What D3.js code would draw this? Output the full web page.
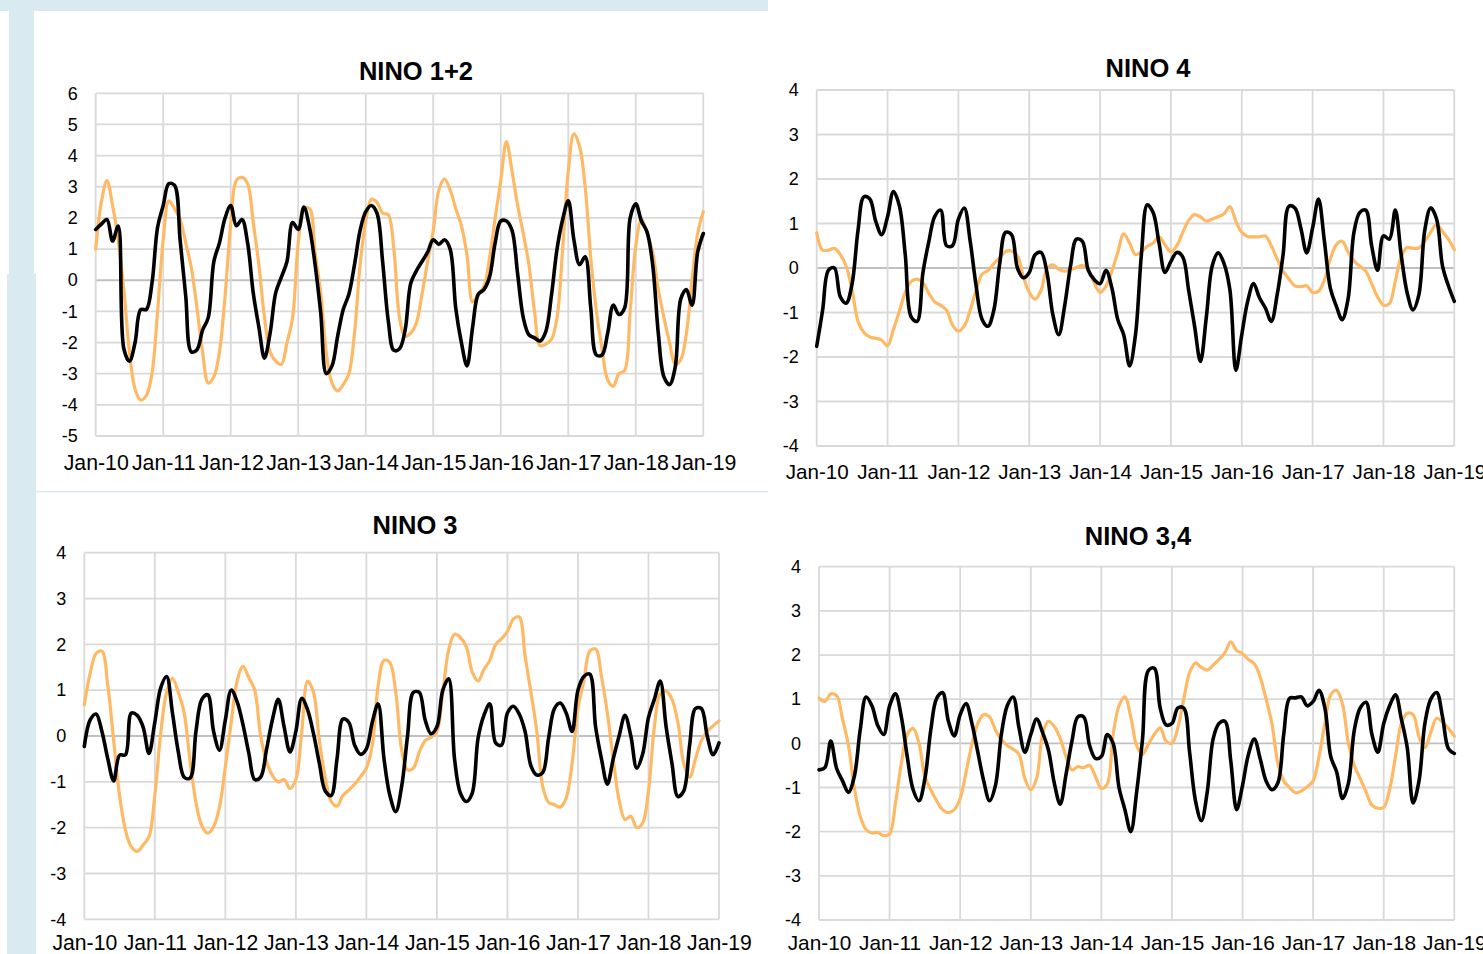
<!DOCTYPE html>
<html>
<head>
<meta charset="utf-8">
<script src="https://cdn.jsdelivr.net/npm/d3@7"></script>
<style>
  html, body { margin: 0; padding: 0; background: #ffffff; }
  svg { display: block; }
  text { font-family: "Liberation Sans", Arial, sans-serif; fill: #000; }
</style>
</head>
<body>
<svg id="chart" width="1483" height="954"></svg>
<script>
// Year labels on the time axis (one tick every 12 months, Jan-2010 .. Jan-2019)
const tickLabels = ["Jan-10", "Jan-11", "Jan-12", "Jan-13", "Jan-14", "Jan-15", "Jan-16", "Jan-17", "Jan-18", "Jan-19"];

// Monthly anomalies, Jan-2010 .. Jan-2019 (109 values per series)
const nino12A = [
  1.0, 2.5, 3.2, 2.4, 1.3, -0.3, -2.3, -3.5, -3.85, -3.7, -3.0, -1.0,
  1.3, 2.55, 2.3, 1.95, 1.2, 0.4, -0.9, -2.3, -3.3, -3.1, -2.3, -0.5,
  1.8, 3.2, 3.3, 3.1, 1.85, 0.5, -1.2, -2.3, -2.6, -2.7, -2.0, -1.2,
  1.2, 2.3, 2.3, 0.9, -0.4, -2.35, -3.3, -3.55, -3.35, -3.0, -1.7, 0.5,
  1.9, 2.6, 2.5, 2.15, 2.1, 1.0, -1.2, -1.8, -1.7, -1.37, -0.45, 0.6,
  1.6, 2.9, 3.25, 2.9, 2.3, 1.75, 0.8, -0.7, -0.45, -0.2, 0.7, 2.0,
  3.2, 4.45, 3.5, 2.4, 1.5, 0.5, -1.0, -2.1, -2.05, -1.9, -1.2, 1.0,
  3.5, 4.7, 4.3, 3.0, 0.7, -1.0, -2.2, -3.2, -3.4, -3.0, -2.9, -1.0,
  1.1, 1.95, 1.5, 0.9, -0.3, -1.2, -2.0, -2.7, -2.55, -1.7, 0.0, 1.5,
  2.2
];
const nino12B = [
  1.63, 1.8, 1.95, 1.26, 1.74, -2.2, -2.6, -2.0, -0.94, -0.94, -0.1, 1.7,
  2.4, 3.1, 3.05, 1.3, -0.5, -2.3, -2.23, -1.6, -1.2, 0.6, 1.2, 2.0,
  2.4, 1.75, 1.95, 1.2, -0.4, -1.5, -2.5, -1.7, -0.4, 0.1, 0.6, 1.85,
  1.63, 2.35, 1.7, 0.5, -1.05, -3.0, -2.75, -1.8, -0.94, -0.45, 0.5, 1.6,
  2.2, 2.4, 2.15, 0.6, -1.3, -2.25, -2.2, -1.6, -0.1, 0.3, 0.6, 0.9,
  1.3, 1.15, 1.3, 1.0, -0.9, -2.0, -2.75, -1.5, -0.45, -0.3, 0.1, 1.2,
  1.9, 1.9, 1.6, 0.2, -1.2, -1.75, -1.85, -1.95, -1.65, -0.5, 1.0, 1.95,
  2.55, 1.3, 0.5, 0.75, -0.9, -2.4, -2.4, -1.7, -0.8, -1.1, -0.9, 2.0,
  2.45, 1.9, 1.55, 0.5, -1.7, -3.1, -3.35, -2.8, -0.6, -0.3, -0.8, 0.9,
  1.5
];

const nino4A = [
  0.79, 0.4, 0.4, 0.44, 0.3, 0.04, -0.5, -1.2, -1.45, -1.55, -1.58, -1.62,
  -1.75, -1.38, -0.97, -0.55, -0.3, -0.25, -0.33, -0.57, -0.76, -0.84, -0.95, -1.28,
  -1.42, -1.3, -0.95, -0.5, -0.14, -0.06, 0.1, 0.23, 0.37, 0.38, 0.27, -0.19,
  -0.55, -0.7, -0.5, -0.02, 0.07, -0.03, -0.07, -0.04, 0.01, 0.06, -0.04, -0.33,
  -0.55, -0.41, -0.07, 0.35, 0.77, 0.56, 0.3, 0.37, 0.49, 0.56, 0.7, 0.52,
  0.36, 0.5, 0.8, 1.07, 1.2, 1.15, 1.05, 1.1, 1.15, 1.22, 1.38, 1.05,
  0.8, 0.71, 0.7, 0.7, 0.72, 0.5, 0.2, -0.07, -0.25, -0.4, -0.42, -0.4,
  -0.55, -0.52, -0.27, 0.2, 0.52, 0.6, 0.36, 0.16, 0.04, -0.07, -0.35, -0.65,
  -0.83, -0.8, -0.3, 0.25, 0.46, 0.44, 0.45, 0.6, 0.8, 0.98, 0.82, 0.65,
  0.41
];
const nino4B = [
  -1.76, -0.95, -0.05, 0.0, -0.65, -0.79, -0.35, 0.85, 1.6, 1.55, 1.05, 0.75,
  1.15, 1.72, 1.4, 0.3, -1.1, -1.2, -0.1, 0.6, 1.16, 1.3, 0.5, 0.5,
  1.1, 1.35, 0.6, -0.4, -1.15, -1.31, -0.95, 0.1, 0.8, 0.75, 0.0, -0.22,
  -0.1, 0.3, 0.35, -0.1, -1.05, -1.5, -0.85, 0.05, 0.65, 0.6, -0.05, -0.26,
  -0.35, -0.05, -0.45, -1.16, -1.5, -2.2, -1.5, 0.3, 1.42, 1.24, 0.55, -0.1,
  0.15, 0.35, 0.25, -0.5, -1.3, -2.1, -1.1, 0.05, 0.34, 0.1, -0.5, -2.3,
  -1.5, -0.75, -0.35, -0.67, -0.9, -1.2, -0.6, 0.3, 1.39, 1.35, 0.9, 0.34,
  0.9, 1.55, 0.6, -0.45, -0.85, -1.16, -0.7, 0.8, 1.25, 1.3, 0.5, -0.05,
  0.72, 0.65, 1.3, 0.3, -0.55, -0.94, -0.6, 0.85, 1.35, 1.1, 0.05, -0.4,
  -0.75
];

const nino3A = [
  0.68, 1.37, 1.8, 1.85, 1.1, -0.1, -1.3, -2.05, -2.42, -2.52, -2.38, -2.2,
  -1.3, 0.05, 0.95, 1.26, 0.95, 0.5, -0.55, -1.45, -1.96, -2.12, -1.98, -1.55,
  -0.67, 0.3, 1.2, 1.52, 1.27, 1.0, 0.0, -0.55, -0.86, -1.0, -0.95, -1.15,
  -0.95, 0.1, 1.2, 0.95, -0.1, -0.9, -1.42, -1.53, -1.3, -1.18, -1.05, -0.89,
  -0.7, -0.2, 1.1, 1.65, 1.6, 0.95, -0.3, -0.74, -0.7, -0.35, -0.1, -0.03,
  0.1, 0.95, 1.88, 2.22, 2.15, 1.95, 1.4, 1.2, 1.45, 1.65, 2.0, 2.12,
  2.28, 2.55, 2.6, 1.75, 0.95, 0.1, -1.1, -1.45, -1.5, -1.55, -1.35, -0.6,
  0.6, 1.2, 1.85, 1.9, 1.3, 0.5, -0.5, -1.4, -1.82, -1.75, -2.0, -1.9,
  -1.2, 0.2, 0.92, 0.98, 0.8, 0.3, -0.6, -0.9, -0.5, -0.1, 0.1, 0.22,
  0.33
];
const nino3B = [
  -0.23, 0.35, 0.48, 0.1, -0.5, -0.98, -0.42, -0.41, 0.5, 0.45, 0.2, -0.38,
  0.3, 1.05, 1.3, 0.5, -0.35, -0.9, -0.92, 0.1, 0.8, 0.9, 0.1, -0.31,
  0.35, 1.0, 0.75, 0.25, -0.38, -0.95, -0.9, -0.3, 0.35, 0.8, 0.2, -0.35,
  0.1, 0.82, 0.57, 0.05, -0.6, -1.2, -1.3, -0.5, 0.37, 0.3, -0.2, -0.4,
  -0.28, 0.3, 0.7, -0.5, -1.3, -1.65, -1.1, 0.0, 0.95, 0.95, 0.35, 0.05,
  0.2, 1.0, 1.25, -0.5, -1.25, -1.43, -1.25, -0.05, 0.45, 0.7, -0.15, -0.2,
  0.5, 0.65, 0.48, 0.1, -0.65, -0.85, -0.8, -0.05, 0.6, 0.72, 0.5, 0.1,
  1.0, 1.3, 1.35, 0.2, -0.5, -1.05, -0.5, 0.0, 0.45, 0.0, -0.7, -0.4,
  0.4, 0.8, 1.2, 0.2, -0.6, -1.32, -1.2, -0.2, 0.6, 0.6, 0.0, -0.41,
  -0.15
];

const nino34A = [
  1.02, 0.95, 1.12, 1.08, 0.55, -0.04, -1.0, -1.65, -1.95, -2.03, -2.02, -2.09,
  -2.05, -1.35, -0.45, 0.2, 0.34, 0.0, -0.75, -1.05, -1.3, -1.5, -1.57, -1.5,
  -1.25, -0.65, -0.02, 0.45, 0.65, 0.6, 0.3, 0.08, -0.05, -0.13, -0.25, -0.8,
  -1.05, -0.79, 0.2, 0.5, 0.38, 0.12, -0.3, -0.6, -0.53, -0.55, -0.5, -0.75,
  -1.02, -0.92, 0.2, 0.85, 1.05, 0.6, -0.05, -0.25, -0.02, 0.2, 0.35, 0.05,
  0.0, 0.35, 1.0, 1.6, 1.82, 1.72, 1.66, 1.77, 1.9, 2.05, 2.3, 2.1,
  2.03, 1.9, 1.8, 1.5, 1.0, 0.45, -0.45, -0.85, -1.0, -1.12, -1.08, -0.98,
  -0.85, -0.3, 0.45, 1.1, 1.2, 0.88, 0.0, -0.5, -0.8, -1.1, -1.4, -1.47,
  -1.45, -1.05, -0.3, 0.45, 0.68, 0.65, 0.15, -0.1, 0.25, 0.57, 0.48, 0.34,
  0.16
];
const nino34B = [
  -0.6, -0.55, 0.05, -0.57, -0.85, -1.11, -0.75, 0.3, 1.05, 0.85, 0.4, 0.2,
  0.85, 1.12, 0.6, -0.3, -1.05, -1.3, -0.8, 0.3, 1.02, 1.15, 0.5, 0.17,
  0.65, 0.9, 0.45, -0.2, -0.85, -1.3, -0.95, 0.2, 0.85, 1.05, 0.35, -0.2,
  0.2, 0.55, 0.25, -0.15, -0.9, -1.38, -0.7, 0.05, 0.6, 0.6, -0.05, -0.34,
  -0.3, 0.2, 0.0, -1.0, -1.5, -2.0, -1.1, 0.1, 1.65, 1.7, 0.8, 0.42,
  0.45, 0.8, 0.8, -0.2, -1.3, -1.75, -1.1, 0.1, 0.45, 0.5, -0.4, -1.5,
  -0.95, -0.25, 0.1, -0.35, -0.85, -1.05, -0.9, 0.2, 1.02, 1.03, 1.05, 0.85,
  0.95, 1.2, 0.8, -0.3, -0.65, -1.25, -0.9, 0.3, 0.8, 0.93, 0.2, -0.2,
  0.45, 0.85, 1.1, 0.55, -0.1, -1.35, -0.85, 0.45, 1.0, 1.15, 0.6, -0.12,
  -0.23
];

const svg = d3.select("#chart");
const pageBlue = "#d9ebf0";

// Pale blue page showing around the white chart cards
const bands = [
  { x: 0, y: 0, w: 768, h: 11 },
  { x: 9, y: 11, w: 25, h: 263 },
  { x: 7, y: 274, w: 29, h: 680 },
  { x: 36, y: 491, w: 732, h: 1.5 }
];
svg.selectAll("rect.band").data(bands).join("rect")
  .attr("class", "band")
  .attr("x", d => d.x).attr("y", d => d.y)
  .attr("width", d => d.w).attr("height", d => d.h)
  .attr("fill", pageBlue);

const panels = [
  { title: "NINO 1+2", a: nino12A, b: nino12B, yMin: -5, yMax: 6,
    left: 95.7, right: 703.3, top: 93.3, bottom: 436, titleX: 416, titleY: 80,
    xFont: 21.3, xPad: 19 },
  { title: "NINO 4", a: nino4A, b: nino4B, yMin: -4, yMax: 4,
    left: 816.7, right: 1454.3, top: 90, bottom: 446, titleX: 1148, titleY: 77,
    xFont: 20.6, xPad: 18.5 },
  { title: "NINO 3", a: nino3A, b: nino3B, yMin: -4, yMax: 4,
    left: 84.3, right: 719, top: 552.7, bottom: 919.3, titleX: 415, titleY: 534,
    xFont: 21.2, xPad: 16 },
  { title: "NINO 3,4", a: nino34A, b: nino34B, yMin: -4, yMax: 4,
    left: 819, right: 1454.3, top: 566.7, bottom: 920, titleX: 1138, titleY: 545,
    xFont: 20.8, xPad: 15.5 }
];

const nMonths = (tickLabels.length - 1) * 12;

panels.forEach(p => {
  const g = svg.append("g");
  const x = d3.scaleLinear().domain([0, nMonths]).range([p.left, p.right]);
  const y = d3.scaleLinear().domain([p.yMin, p.yMax]).range([p.bottom, p.top]);
  const yTicks = d3.range(p.yMin, p.yMax + 1);
  const xTicks = d3.range(0, nMonths + 1, 12);

  // grid
  g.append("g").selectAll("line").data(yTicks).join("line")
    .attr("x1", p.left).attr("x2", p.right)
    .attr("y1", d => y(d)).attr("y2", d => y(d))
    .attr("stroke", d => d === 0 ? "#c0c0c0" : "#d9d9d9")
    .attr("stroke-width", 1.8);
  g.append("g").selectAll("line").data(xTicks).join("line")
    .attr("x1", d => x(d)).attr("x2", d => x(d))
    .attr("y1", p.top).attr("y2", p.bottom)
    .attr("stroke", "#d9d9d9")
    .attr("stroke-width", 1.8);

  // y axis labels (plain hyphen for negatives)
  const yAxis = d3.axisLeft(y).tickValues(yTicks).tickSize(0).tickPadding(18)
    .tickFormat(d => String(d));
  const ya = g.append("g").attr("transform", `translate(${p.left},0)`).call(yAxis);
  ya.select(".domain").remove();
  ya.selectAll("text").attr("font-size", 18)
    .attr("font-family", "'Liberation Sans', Arial, sans-serif").attr("fill", "#000");

  // x axis labels
  const xAxis = d3.axisBottom(x).tickValues(xTicks).tickSize(0).tickPadding(p.xPad)
    .tickFormat((d, i) => tickLabels[i]);
  const xa = g.append("g").attr("transform", `translate(0,${p.bottom})`).call(xAxis);
  xa.select(".domain").remove();
  xa.selectAll("text").attr("font-size", p.xFont)
    .attr("font-family", "'Liberation Sans', Arial, sans-serif").attr("fill", "#000");

  // title
  g.append("text").attr("x", p.titleX).attr("y", p.titleY)
    .attr("text-anchor", "middle").attr("font-size", 25.5).attr("font-weight", "bold")
    .text(p.title);

  const line = d3.line()
    .x((d, i) => x(i)).y(d => y(d))
    .curve(d3.curveCatmullRom.alpha(0.5));

  g.append("path").datum(p.a).attr("d", line)
    .attr("fill", "none").attr("stroke", "#ffb964").attr("stroke-width", 3.2)
    .attr("stroke-linejoin", "round").attr("stroke-linecap", "round");
  g.append("path").datum(p.b).attr("d", line)
    .attr("fill", "none").attr("stroke", "#000000").attr("stroke-width", 3.6)
    .attr("stroke-linejoin", "round").attr("stroke-linecap", "round");
});
</script>
</body>
</html>
